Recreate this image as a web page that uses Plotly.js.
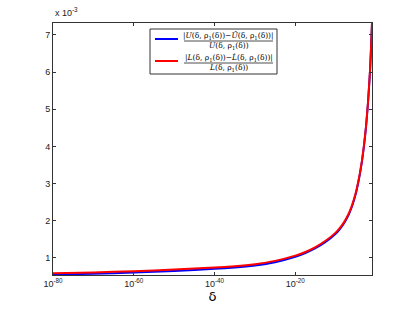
<!DOCTYPE html>
<html>
<head>
<meta charset="utf-8">
<script src="https://cdn.plot.ly/plotly-3.0.1.min.js"></script>
<style>
html,body{margin:0;padding:0;background:#fff;}
#chart{width:411px;height:309px;}
</style>
</head>
<body>
<div id="chart"></div>
<script>
// delta values (log x axis)
const delta = [1e-80,1e-70,1e-60,1e-50,1e-40,1e-35,1e-30,1e-25,1e-20,3.16e-18,1e-15,3.16e-13,1e-10,1e-9,1e-8,1e-7,1e-6,1e-5,3.16e-5,1e-4,3.16e-4,1e-3,3.16e-3,1e-2,3.16e-2,5.62e-2,1e-1];
// relative errors, in units of 1e-3
const upperErr = [0.55,0.575,0.605,0.65,0.705,0.74,0.795,0.885,1.03,1.13,1.26,1.43,1.65,1.77,1.92,2.11,2.37,2.73,2.975,3.255,3.585,3.995,4.50,5.15,6.01,6.615,7.32];
const lowerErr = [0.585,0.61,0.64,0.685,0.74,0.775,0.83,0.92,1.06,1.16,1.29,1.46,1.68,1.80,1.95,2.14,2.40,2.76,3.00,3.28,3.61,4.02,4.52,5.17,6.02,6.62,7.32];
const xTickVals = [1e-80,1e-60,1e-40,1e-20];
const xTickText = ['10<sup>-80</sup>','10<sup>-60</sup>','10<sup>-40</sup>','10<sup>-20</sup>'];
const yTickVals = [1,2,3,4,5,6,7];

const traces = [
  {x: delta, y: upperErr, mode:'lines', line:{color:'#0000ff', width:2, shape:'spline', smoothing:0.4}, showlegend:false, hoverinfo:'skip'},
  {x: delta, y: lowerErr, mode:'lines', line:{color:'#ff0000', width:2, shape:'spline', smoothing:0.4}, showlegend:false, hoverinfo:'skip'}
];

const W = 319, H = 252;
const px = v => (v - 53) / W;
const py = v => (275 - v) / H;

const fs = {family:'DejaVu Serif, serif', size:7.5, color:'#000'};
const num1 = '|<i>U</i>(δ, ρ<sub>1</sub>(δ))−<i>Û</i>(δ, ρ<sub>1</sub>(δ))|';
const den1 = '<i>U</i>(δ, ρ<sub>1</sub>(δ))';
const num2 = '|<i>L</i>(δ, ρ<sub>1</sub>(δ))−<i>L̂</i>(δ, ρ<sub>1</sub>(δ))|';
const den2 = '<i>L</i>(δ, ρ<sub>1</sub>(δ))';

const layout = {
  width:411, height:309,
  margin:{l:53, r:39, t:23, b:34},
  paper_bgcolor:'#fff', plot_bgcolor:'#fff',
  font:{family:'Liberation Sans, Arial, sans-serif', size:9, color:'#222'},
  xaxis:{type:'log', range:[-80,-1], tickvals:xTickVals, ticktext:xTickText,
    ticks:'inside', ticklen:3, tickcolor:'#333', showline:true, linecolor:'#333', linewidth:1,
    mirror:'ticks', showgrid:false, zeroline:false,
    title:{text:'δ', font:{size:13, color:'#000', family:'DejaVu Sans, sans-serif'}, standoff:3}},
  yaxis:{range:[0.54,7.32], tickvals:yTickVals, ticks:'inside', ticklen:3, tickcolor:'#333',
    showline:true, linecolor:'#333', linewidth:1, mirror:'ticks', showgrid:false, zeroline:false},
  shapes:[
    {type:'rect', xref:'paper', yref:'paper', x0:px(150), x1:px(277), y0:py(74), y1:py(29), line:{color:'#333', width:1}, fillcolor:'#fff'},
    {type:'line', xref:'paper', yref:'paper', x0:px(155), x1:px(178), y0:py(39), y1:py(39), line:{color:'#0000ff', width:2}},
    {type:'line', xref:'paper', yref:'paper', x0:px(155), x1:px(178), y0:py(61), y1:py(61), line:{color:'#ff0000', width:2}},
    {type:'line', xref:'paper', yref:'paper', x0:px(184), x1:px(273), y0:py(41), y1:py(41), line:{color:'#000', width:0.7}},
    {type:'line', xref:'paper', yref:'paper', x0:px(184), x1:px(273), y0:py(63), y1:py(63), line:{color:'#000', width:0.7}}
  ],
  annotations:[
    {text:'x 10<sup>-3</sup>', xref:'paper', yref:'paper', x:0, y:py(20), xanchor:'left', yanchor:'bottom', showarrow:false, font:{size:9, color:'#222'}},
    {text:num1, xref:'paper', yref:'paper', x:px(228.5), y:py(36), xanchor:'center', yanchor:'middle', showarrow:false, font:fs},
    {text:den1, xref:'paper', yref:'paper', x:px(228.5), y:py(46), xanchor:'center', yanchor:'middle', showarrow:false, font:fs},
    {text:num2, xref:'paper', yref:'paper', x:px(228.5), y:py(58), xanchor:'center', yanchor:'middle', showarrow:false, font:fs},
    {text:den2, xref:'paper', yref:'paper', x:px(228.5), y:py(68), xanchor:'center', yanchor:'middle', showarrow:false, font:fs}
  ]
};

Plotly.newPlot('chart', traces, layout, {staticPlot:true, displayModeBar:false});
</script>
</body>
</html>
